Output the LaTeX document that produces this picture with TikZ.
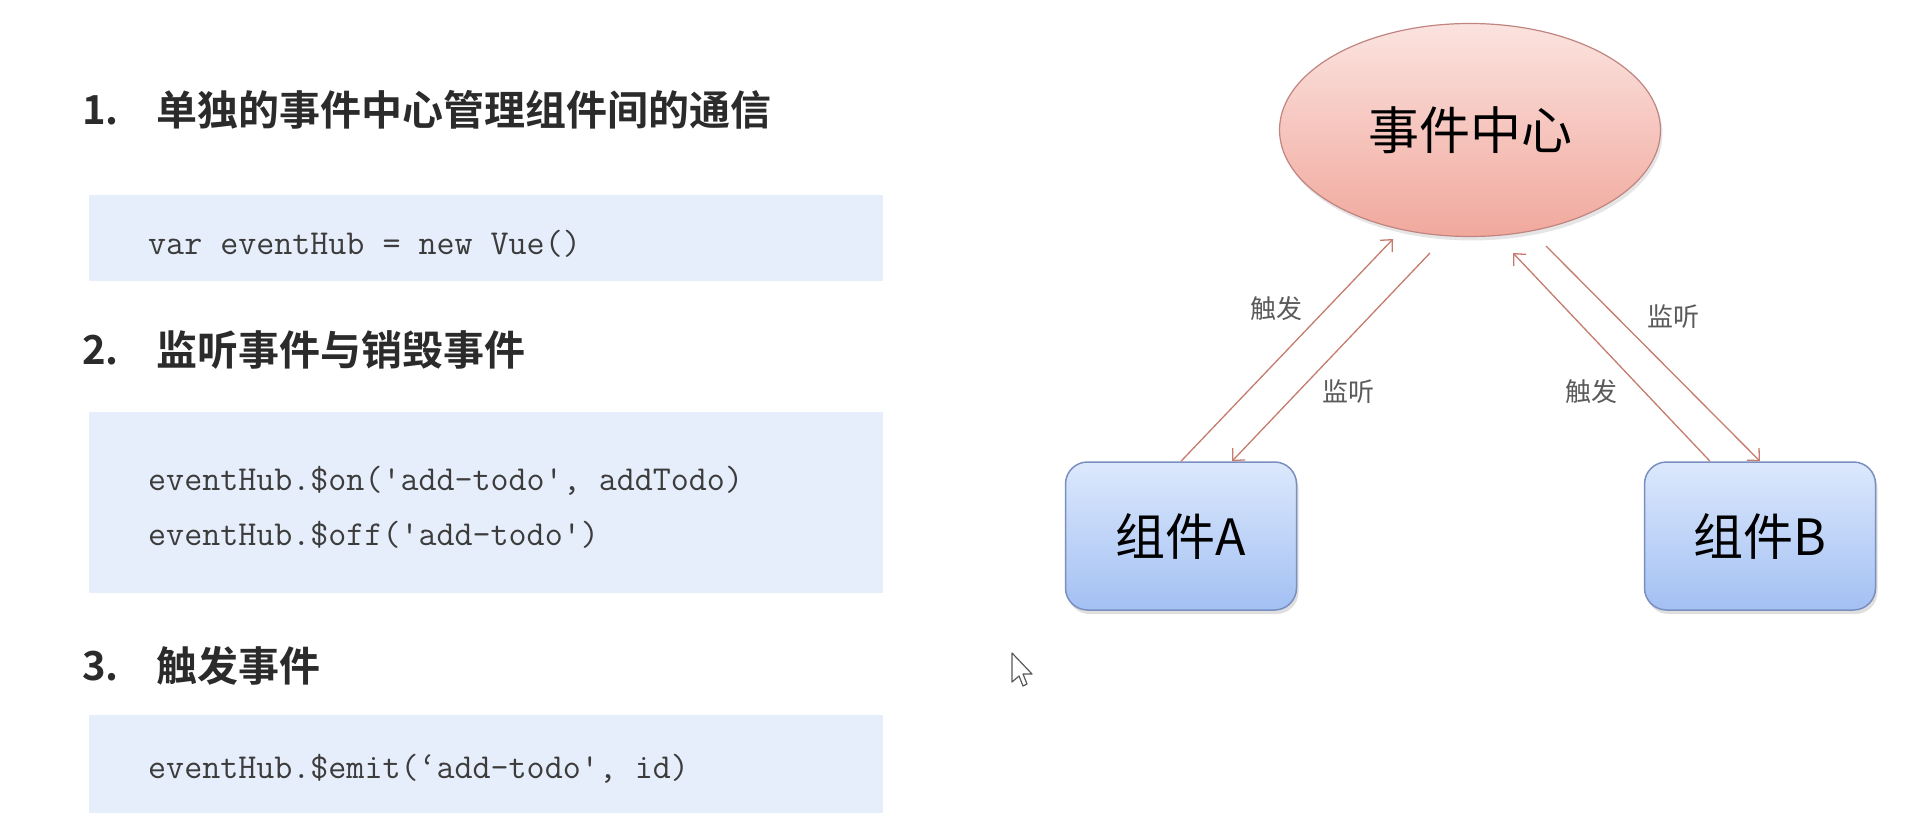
\documentclass[tikz,border=0pt]{standalone}
\usepackage{fontspec}
\newfontfamily\cjk{Noto Sans CJK SC}[BoldFont={* Bold}]
\usetikzlibrary{arrows.meta,shadows,calc,shapes.geometric}
\definecolor{codebg}{HTML}{E6EEFB}
\definecolor{headc}{HTML}{2B2B2B}
\definecolor{codec}{HTML}{3C3C3C}
\definecolor{comptop}{HTML}{DCE8FC}
\definecolor{compbot}{HTML}{A3C0F3}
\definecolor{compborder}{HTML}{7A8FC0}
\definecolor{hubtop}{HTML}{FBE3DF}
\definecolor{hubbot}{HTML}{F1A89D}
\definecolor{hubborder}{HTML}{C08580}
\definecolor{linkc}{HTML}{C57C6E}
\definecolor{lblc}{HTML}{5A5A5A}
\begin{document}
\begin{tikzpicture}[x=1pt,y=-1pt,
  codebox/.style={fill=codebg, draw=none, minimum width=794pt, anchor=north west, inner sep=0},
  headnum/.style={anchor=west, inner sep=0, text=headc, font=\cjk\bfseries\fontsize{40}{42}\selectfont},
  heading/.style={anchor=west, inner sep=0, text=headc, font=\cjk\bfseries\fontsize{41}{43}\selectfont},
  codetext/.style={anchor=west, inner sep=0, text=codec, font=\ttfamily\fontsize{35}{37}\selectfont},
  comp/.style={draw=compborder, line width=1.5pt, rounded corners=22pt, top color=comptop, bottom color=compbot,
    minimum width=231pt, minimum height=148pt, inner sep=0, font=\cjk\fontsize{50}{52}\selectfont,
    drop shadow={opacity=0.25, shadow xshift=2pt, shadow yshift=-4pt}},
  hub/.style={ellipse, draw=hubborder, line width=1.2pt, top color=hubtop, bottom color=hubbot,
    minimum width=381pt, minimum height=213pt, inner sep=0, font=\cjk\fontsize{51}{53}\selectfont,
    drop shadow={opacity=0.2, shadow xshift=2pt, shadow yshift=-4pt}},
  link/.style={draw=linkc, line width=1.3pt, -{Straight Barb[length=9pt,width=17pt,line width=1.3pt]}},
  lbl/.style={text=lblc, font=\cjk\fontsize{26}{28}\selectfont, inner sep=0}
]
\useasboundingbox[fill=white] (0,0) rectangle (1906,837);

% left column
\node[headnum] (h1n) at (82,110) {1.};
\node[heading] (h1) at (156,110) {单独的事件中心管理组件间的通信};
\node[codebox, minimum height=86pt] (c1) at (89,195) {};
\node[codetext] (t1) at (148,244) {var eventHub = new Vue()};

\node[headnum] (h2n) at (82,350) {2.};
\node[heading] (h2) at (156,350) {监听事件与销毁事件};
\node[codebox, minimum height=181pt] (c2) at (89,412) {};
\node[codetext] (t2a) at (148,481) {eventHub.\$on('add-todo', addTodo)};
\node[codetext] (t2b) at (148,535) {eventHub.\$off('add-todo')};

\node[headnum] (h3n) at (82,666) {3.};
\node[heading] (h3) at (156,666) {触发事件};
\node[codebox, minimum height=98pt] (c3) at (89,715) {};
\node[codetext] (t3) at (148,769) {eventHub.\$emit(‘add-todo', id)};

% diagram
\node[hub] (E) at (1470,130) {事件中心};
\node[comp] (A) at (1181,536) {组件A};
\node[comp] (B) at (1760,536) {组件B};

\coordinate (e1) at (1393,239);
\coordinate (e2) at (1430,253);
\coordinate (e3) at (1513,253);
\coordinate (e4) at (1546,246);

\draw[link] (A.north) -- (e1);
\draw[link] (e2) -- ($(A.north)+(51,0)$);
\draw[link] ($(B.north)+(-50,0)$) -- (e3);
\draw[link] (e4) -- (B.north);

\node[lbl] (l1) at (1276,309) {触发};
\node[lbl] (l2) at (1348,392) {监听};
\node[lbl] (l3) at (1673,317) {监听};
\node[lbl] (l4) at (1591,392) {触发};

% mouse cursor
\draw[fill=white, draw=black!65, line width=1.2pt, line join=round]
  (1012,653) -- ++(0,29) -- ++(7,-6) -- ++(4,10) -- ++(4,-2) -- ++(-4,-10) -- ++(9,0) -- cycle;
\end{tikzpicture}
\end{document}
